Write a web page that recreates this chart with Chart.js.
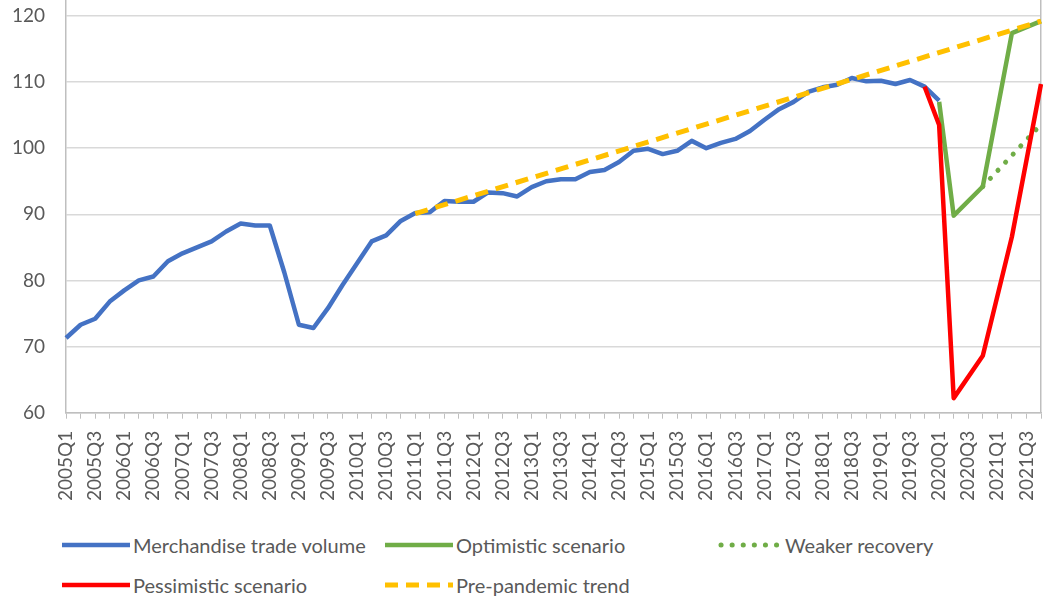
<!DOCTYPE html>
<html>
<head>
<meta charset="utf-8">
<script src="https://cdn.jsdelivr.net/npm/chart.js@4.4.1/dist/chart.umd.min.js"></script>
<style>
  html, body { margin: 0; padding: 0; background: #fff; }
  #wrap { position: relative; width: 1062px; height: 598px; overflow: hidden; font-family: Lato, sans-serif; }
  #box { position: absolute; left: 0; top: 0; width: 1062px; height: 516px; }
  .leg { position: absolute; display: flex; align-items: center; font-size: 20px; color: #595959; white-space: nowrap; line-height: 1; }
</style>
</head>
<body>
<div id="wrap">
  <div id="box"><canvas id="trade"></canvas></div>
  <div id="legend"></div>
</div>
<script>
  // Quarterly categories 2005Q1 .. 2021Q4
  const quarters = [];
  for (let y = 2005; y <= 2021; y++) {
    for (let q = 1; q <= 4; q++) quarters.push(y + 'Q' + q);
  }

  // Merchandise trade volume, 2005Q1 .. 2020Q1
  const tradeVolume = [
    71.3, 73.3, 74.2, 76.8, 78.5, 80.0, 80.6, 82.9, 84.1, 85.0,
    85.9, 87.4, 88.6, 88.3, 88.3, 81.2, 73.3, 72.8, 75.8, 79.3,
    82.6, 85.9, 86.8, 89.0, 90.2, 90.3, 92.0, 91.9, 91.9, 93.3,
    93.2, 92.7, 94.1, 95.0, 95.3, 95.3, 96.4, 96.7, 97.9, 99.6,
    99.9, 99.1, 99.6, 101.1, 100.0, 100.8, 101.4, 102.6, 104.3, 105.9,
    107.0, 108.5, 109.2, 109.6, 110.6, 110.1, 110.2, 109.7, 110.3, 109.3,
    107.2
  ];

  // Scenarios (only the quarters where the line bends)
  const optimisticQ = ['2020Q1', '2020Q2', '2020Q4', '2021Q2', '2021Q4'];
  const optimisticVal = [107.0, 89.8, 94.2, 117.4, 119.2];

  const weakerQ = ['2020Q4', '2021Q4'];
  const weakerVal = [94.2, 103.6];

  const pessimisticQ = ['2019Q4', '2020Q1', '2020Q2', '2020Q4', '2021Q2', '2021Q4'];
  const pessimisticVal = [109.3, 103.5, 62.2, 68.6, 86.6, 109.7];

  const trendQ = ['2011Q1', '2021Q4'];
  const trendVal = [90.1, 119.2];

  const yTicks = [60, 70, 80, 90, 100, 110, 120];

  const pts = (qs, vs) => qs.map((q, i) => ({ x: q, y: vs[i] }));

  const ctx = document.getElementById('trade').getContext('2d');

  const tradeChart = new Chart(ctx, {
    type: 'line',
    data: {
      labels: quarters,
      datasets: [
        {
          label: 'Merchandise trade volume',
          data: tradeVolume,
          borderColor: '#4472C4',
          borderWidth: 4.5,
          order: 4
        },
        {
          label: 'Optimistic scenario',
          data: pts(optimisticQ, optimisticVal),
          borderColor: '#70AD47',
          borderWidth: 4.5,
          order: 3
        },
        {
          label: 'Weaker recovery',
          data: pts(weakerQ, weakerVal),
          borderColor: '#70AD47',
          borderWidth: 5,
          borderDash: [0.1, 11],
          borderCapStyle: 'round',
          order: 2
        },
        {
          label: 'Pessimistic scenario',
          data: pts(pessimisticQ, pessimisticVal),
          borderColor: '#FF0000',
          borderWidth: 4.5,
          order: 1
        },
        {
          label: 'Pre-pandemic trend',
          data: pts(trendQ, trendVal),
          borderColor: '#FFC000',
          borderWidth: 5,
          borderDash: [13, 8],
          order: 0
        }
      ]
    },
    options: {
      responsive: true,
      maintainAspectRatio: false,
      animation: false,
      layout: { padding: { left: 12, right: 13, top: 0, bottom: 3 } },
      elements: {
        point: { radius: 0 },
        line: { tension: 0, borderJoinStyle: 'round' }
      },
      plugins: {
        legend: { display: false },
        tooltip: { enabled: false }
      },
      scales: {
        x: {
          type: 'category',
          offset: false,
          grid: { drawOnChartArea: false, drawTicks: true, tickLength: 6, color: '#bfbfbf' },
          border: { color: '#bfbfbf', width: 1.5 },
          ticks: {
            autoSkip: false,
            minRotation: 90,
            maxRotation: 90,
            padding: 12,
            color: '#595959',
            font: { family: 'Lato', size: 19, lineHeight: 0.1 },
            callback: function (value, index) {
              return index % 2 === 0 ? this.getLabelForValue(value) : '';
            }
          }
        },
        y: {
          min: 60,
          max: 122.26,
          afterBuildTicks: scale => { scale.ticks = yTicks.map(v => ({ value: v })); },
          grid: { color: '#d9d9d9', lineWidth: 1.5, drawTicks: true, tickLength: 21, tickColor: 'rgba(0,0,0,0)' },
          border: { color: '#bfbfbf', width: 1.5 },
          ticks: {
            padding: 0,
            color: '#595959',
            font: { family: 'Lato', size: 19, lineHeight: 0.1 }
          }
        },
        yRight: {
          position: 'right',
          grid: { display: false },
          border: { display: true, color: '#bfbfbf', width: 1.5 },
          ticks: { display: false }
        }
      }
    }
  });

  // HTML legend laid out in two rows like the original
  const legendSlots = [[62, 545], [385, 545], [718, 545], [62, 585], [385, 585]];
  const legendEl = document.getElementById('legend');
  tradeChart.data.datasets.forEach((ds, i) => {
    const [left, cy] = legendSlots[i];
    const w = i === 2 ? 64 : 68;
    const dash = ds.borderDash ? `stroke-dasharray="${ds.borderDash.join(' ')}"` : '';
    const cap = ds.borderCapStyle === 'round' ? 'round' : 'butt';
    const item = document.createElement('div');
    item.className = 'leg';
    item.style.left = left + 'px';
    item.style.top = (cy - 11) + 'px';
    item.style.height = '22px';
    item.innerHTML =
      `<svg width="${w + 3}" height="10"><line x1="${cap === 'round' ? 3 : 0}" y1="5" x2="${w}" y2="5" stroke="${ds.borderColor}" stroke-width="${ds.borderWidth}" stroke-linecap="${cap}" ${dash}/></svg>` +
      `<span>${ds.label}</span>`;
    legendEl.appendChild(item);
  });
</script>
</body>
</html>
